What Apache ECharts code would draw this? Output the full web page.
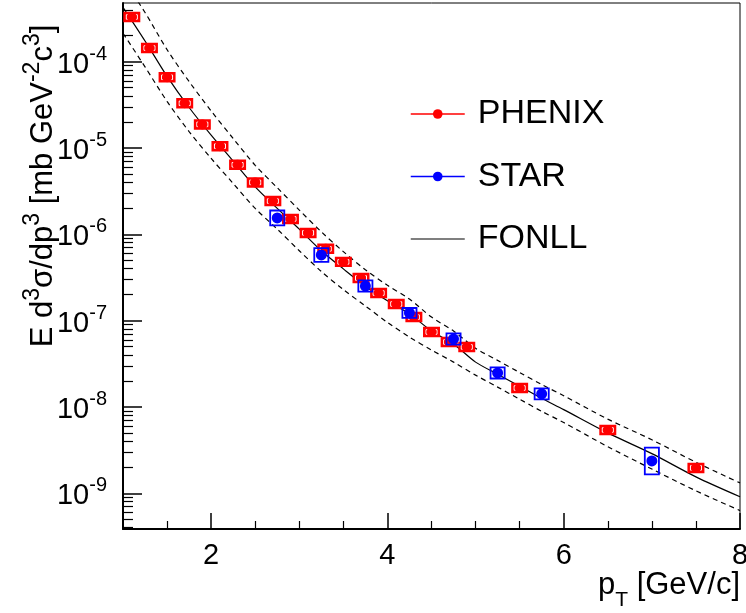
<!DOCTYPE html>
<html><head><meta charset="utf-8">
<script src="https://cdn.jsdelivr.net/npm/echarts@6/dist/echarts.min.js"></script>
<style>html,body{margin:0;padding:0;background:#fff}#c{width:746px;height:613px}</style>
</head><body><div id="c"></div>
<script>
// ---- data ----
const phenixPt  = [1.1, 1.3, 1.5, 1.7, 1.9, 2.1, 2.3, 2.5, 2.7, 2.9, 3.1, 3.3, 3.5, 3.7, 3.9, 4.1, 4.3, 4.5, 4.7, 4.9, 5.5, 6.5, 7.5];
const phenixVal = [3.3e-4, 1.44e-4, 6.6e-5, 3.3e-5, 1.88e-5, 1.05e-5, 6.4e-6, 4.0e-6, 2.43e-6, 1.51e-6, 1.04e-6, 6.8e-7, 4.8e-7, 3.12e-7, 2.09e-7, 1.56e-7, 1.10e-7, 7.4e-8, 5.66e-8, 4.96e-8, 1.66e-8, 5.42e-9, 1.97e-9];
const phenixSys = [0.12, 0.12, 0.12, 0.12, 0.12, 0.12, 0.12, 0.12, 0.12, 0.12, 0.12, 0.12, 0.12, 0.12, 0.12, 0.12, 0.12, 0.12, 0.12, 0.12, 0.12, 0.12, 0.12];
const starPt  = [2.75, 3.25, 3.75, 4.25, 4.75, 5.25, 5.75, 7.0];
const starVal = [1.55e-6, 5.77e-7, 2.52e-7, 1.23e-7, 6.14e-8, 2.48e-8, 1.42e-8, 2.37e-9];
const starSys = [0.22, 0.20, 0.16, 0.14, 0.16, 0.16, 0.16, 0.43];
const fonllPt      = [1.0, 1.25, 1.5, 1.75, 2.0, 2.25, 2.5, 2.75, 3.0, 3.25, 3.5, 3.75, 4.0, 4.25, 4.5, 4.75, 5.0, 5.25, 5.5, 5.75, 6.0, 6.5, 7.0, 7.5, 8.0];
const fonllCentral = [4.27e-4, 1.74e-4, 6.76e-5, 2.95e-5, 1.41e-5, 7.08e-6, 3.55e-6, 2.00e-6, 1.15e-6, 6.46e-7, 3.98e-7, 2.51e-7, 1.70e-7, 1.20e-7, 7.59e-8, 5.37e-8, 3.31e-8, 2.40e-8, 1.74e-8, 1.26e-8, 9.33e-9, 5.01e-9, 2.88e-9, 1.55e-9, 9.12e-10];
const fonllUpper   = [9.1e-4, 3.72e-4, 1.38e-4, 5.89e-5, 2.69e-5, 1.29e-5, 6.31e-6, 3.47e-6, 1.91e-6, 1.07e-6, 6.31e-7, 3.89e-7, 2.57e-7, 1.78e-7, 1.10e-7, 7.59e-8, 4.79e-8, 3.47e-8, 2.51e-8, 1.82e-8, 1.35e-8, 7.24e-9, 4.17e-9, 2.29e-9, 1.32e-9];
const fonllLower   = [2.14e-4, 8.71e-5, 3.47e-5, 1.55e-5, 7.59e-6, 3.89e-6, 2.00e-6, 1.15e-6, 6.46e-7, 3.72e-7, 2.29e-7, 1.48e-7, 9.55e-8, 6.46e-8, 4.57e-8, 3.31e-8, 2.34e-8, 1.70e-8, 1.23e-8, 8.91e-9, 6.61e-9, 3.47e-9, 1.91e-9, 1.07e-9, 6.31e-10];
const xMajorTicks = [2, 4, 6, 8];
const xMinorTicks = [1.5, 2.5, 3, 3.5, 4.5, 5, 5.5, 6.5, 7, 7.5];
const yMajorExp = [-9, -8, -7, -6, -5, -4];
const xRange = [1, 8];
const yRange = [3.86e-10, 4.79e-4];

// ---- styles ----
const FONT = "'Liberation Sans', Arial, Helvetica, sans-serif";
const BOX_HW_PHENIX = 0.085;
const BOX_HW_STAR = 0.08;
const yLogMin = Math.log10(yRange[0]), yLogMax = Math.log10(yRange[1]);
const yMinor = [];
for (let n = -10; n <= -3; n++) for (let k = 2; k <= 9; k++) {
  const v = Math.log10(k) + n;
  if (v > yLogMin && v < yLogMax) yMinor.push(v);
}
const zip = (a, b, c) => a.map((v, i) => c ? [v, b[i], c[i]] : [v, b[i]]);
const supRich = {
  b: {fontSize: 29, fontFamily: FONT, color: '#000', lineHeight: 35, verticalAlign: 'bottom'},
  s: {fontSize: 20, fontFamily: FONT, color: '#000', lineHeight: 20, verticalAlign: 'top'}
};
const titleRich = {
  b: {fontSize: 31, fontFamily: FONT, color: '#000', lineHeight: 38, verticalAlign: 'bottom'},
  s: {fontSize: 23, fontFamily: FONT, color: '#000', lineHeight: 22, verticalAlign: 'top'}
};
const subRich = {
  b: {fontSize: 31, fontFamily: FONT, color: '#000', lineHeight: 32, verticalAlign: 'top'},
  sub: {fontSize: 21, fontFamily: FONT, color: '#000', lineHeight: 41, verticalAlign: 'bottom'}
};

function phenixBox(params, api) {
  const x = api.value(0), y = api.value(1), e = api.value(2);
  const p1 = api.coord([x - BOX_HW_PHENIX, y * (1 + e)]);
  const p2 = api.coord([x + BOX_HW_PHENIX, y / (1 + e)]);
  const cx = api.coord([x, y])[0];
  const l = p1[0], t = p1[1], w = p2[0] - p1[0], h = p2[1] - p1[1];
  return {type: 'group', children: [
    {type: 'rect', shape: {x: l, y: t, width: w, height: h}, style: {fill: '#ff0000', stroke: '#ff0000', lineWidth: 2}},
    {type: 'polyline', shape: {points: [[cx - 3.5, t + 2], [cx - 5.5, t + 2], [cx - 5.5, t + h - 2], [cx - 3.5, t + h - 2]]}, style: {stroke: '#ffffff', fill: null, lineWidth: 1}},
    {type: 'polyline', shape: {points: [[cx + 3.5, t + 2], [cx + 5.5, t + 2], [cx + 5.5, t + h - 2], [cx + 3.5, t + h - 2]]}, style: {stroke: '#ffffff', fill: null, lineWidth: 1}}
  ]};
}
function starBox(params, api) {
  const x = api.value(0), y = api.value(1), e = api.value(2);
  const p1 = api.coord([x - BOX_HW_STAR, y * (1 + e)]);
  const p2 = api.coord([x + BOX_HW_STAR, y / (1 + e)]);
  return {type: 'rect', shape: {x: p1[0], y: p1[1], width: p2[0] - p1[0], height: p2[1] - p1[1]},
          style: {fill: null, stroke: '#0000ff', lineWidth: 1.8}};
}

const chart = echarts.init(document.getElementById('c'), null, {renderer: 'canvas'});
chart.setOption({
  animation: false,
  backgroundColor: '#ffffff',
  grid: {left: 123, right: 6, top: 3, bottom: 84, outerBoundsMode: 'none', containLabel: false,
         show: true, borderColor: '#000', borderWidth: 1, backgroundColor: 'transparent'},
  legend: {
    orient: 'vertical', left: 405, top: 89, itemWidth: 54, itemHeight: 12, itemGap: 22.5,
    selectedMode: false,
    textStyle: {fontSize: 34, fontFamily: FONT, color: '#000', lineHeight: 40, padding: [0, 0, 0, 8]},
    data: [
      {name: 'PHENIX', lineStyle: {color: '#ff0000', width: 1.5, opacity: 1}},
      {name: 'STAR', lineStyle: {color: '#0000ff', width: 1.5, opacity: 1}},
      {name: 'FONLL', lineStyle: {color: '#000000', width: 1.2, opacity: 1}, itemStyle: {opacity: 0}}
    ]
  },
  xAxis: [
    {type: 'value', min: xRange[0], max: xRange[1], position: 'bottom',
     axisLine: {onZero: false, lineStyle: {color: '#000', width: 2}},
     axisTick: {inside: true, length: 16, customValues: xMajorTicks, lineStyle: {color: '#000', width: 1.5}},
     axisLabel: {customValues: xMajorTicks, fontSize: 29, fontFamily: FONT, color: '#000', margin: 12},
     splitLine: {show: false},
     name: '{b|p}{sub|T}{b| [GeV/c]}', nameLocation: 'end', nameGap: 0, nameMoveOverlap: false,
     nameTextStyle: {align: 'right', padding: [122, 0, 0, 0], rich: subRich,
       fontSize: 31, fontFamily: FONT, color: '#000'}
    },
    {type: 'value', min: xRange[0], max: xRange[1], position: 'bottom',
     axisLine: {show: false, onZero: false},
     axisTick: {inside: true, length: 8, customValues: xMinorTicks, lineStyle: {color: '#000', width: 1.2}},
     axisLabel: {show: false}, splitLine: {show: false}}
  ],
  yAxis: [
    {type: 'log', min: yRange[0], max: yRange[1], show: false, splitLine: {show: false}},
    {type: 'value', min: yLogMin, max: yLogMax, position: 'left',
     axisLine: {onZero: false, lineStyle: {color: '#000', width: 2}},
     axisTick: {inside: true, length: 19, customValues: yMajorExp, lineStyle: {color: '#000', width: 1.5}},
     axisLabel: {customValues: yMajorExp, margin: 16, formatter: v => '{b|10}{s|' + Math.round(v) + '}', rich: supRich},
     splitLine: {show: false},
     name: '{b|E d}{s|3}{b|σ/dp}{s|3}{b| [mb GeV}{s|-2}{b|c}{s|3}{b|]}',
     nameLocation: 'middle', nameGap: 64, nameRotate: 90, nameMoveOverlap: false,
     nameTextStyle: {padding: [0, 0, 0, 160], rich: titleRich}
    },
    {type: 'value', min: yLogMin, max: yLogMax, position: 'left',
     axisLine: {show: false, onZero: false},
     axisTick: {inside: true, length: 10, customValues: yMinor, lineStyle: {color: '#000', width: 1.2}},
     axisLabel: {show: false}, splitLine: {show: false}}
  ],
  series: [
    {name: 'FONLL upper', type: 'line', xAxisIndex: 0, yAxisIndex: 0, data: zip(fonllPt, fonllUpper), symbol: 'none', smooth: 0.3,
     lineStyle: {color: '#000', width: 1.2, type: [5, 4]}, z: 2, silent: true},
    {name: 'FONLL lower', type: 'line', xAxisIndex: 0, yAxisIndex: 0, data: zip(fonllPt, fonllLower), symbol: 'none', smooth: 0.3,
     lineStyle: {color: '#000', width: 1.2, type: [5, 4]}, z: 2, silent: true},
    {name: 'FONLL', type: 'line', xAxisIndex: 0, yAxisIndex: 0, data: zip(fonllPt, fonllCentral), symbol: 'none', smooth: 0.3,
     lineStyle: {color: '#000', width: 1.2}, itemStyle: {color: '#000'}, z: 2, silent: true},
    {name: 'PHENIX sys', type: 'custom', xAxisIndex: 0, yAxisIndex: 0, data: zip(phenixPt, phenixVal, phenixSys),
     encode: {x: 0, y: 1}, renderItem: phenixBox, z: 3, silent: true},
    {name: 'PHENIX', type: 'line', xAxisIndex: 0, yAxisIndex: 0, data: zip(phenixPt, phenixVal), symbol: 'circle', symbolSize: 10,
     showSymbol: true, itemStyle: {color: '#ff0000'}, lineStyle: {color: '#ff0000', opacity: 0}, z: 4, silent: true},
    {name: 'STAR sys', type: 'custom', xAxisIndex: 0, yAxisIndex: 0, data: zip(starPt, starVal, starSys),
     encode: {x: 0, y: 1}, renderItem: starBox, z: 5, silent: true},
    {name: 'STAR', type: 'line', xAxisIndex: 0, yAxisIndex: 0, data: zip(starPt, starVal), symbol: 'circle', symbolSize: 11,
     showSymbol: true, itemStyle: {color: '#0000ff'}, lineStyle: {color: '#0000ff', opacity: 0}, z: 6, silent: true}
  ]
});
</script>
</body></html>
